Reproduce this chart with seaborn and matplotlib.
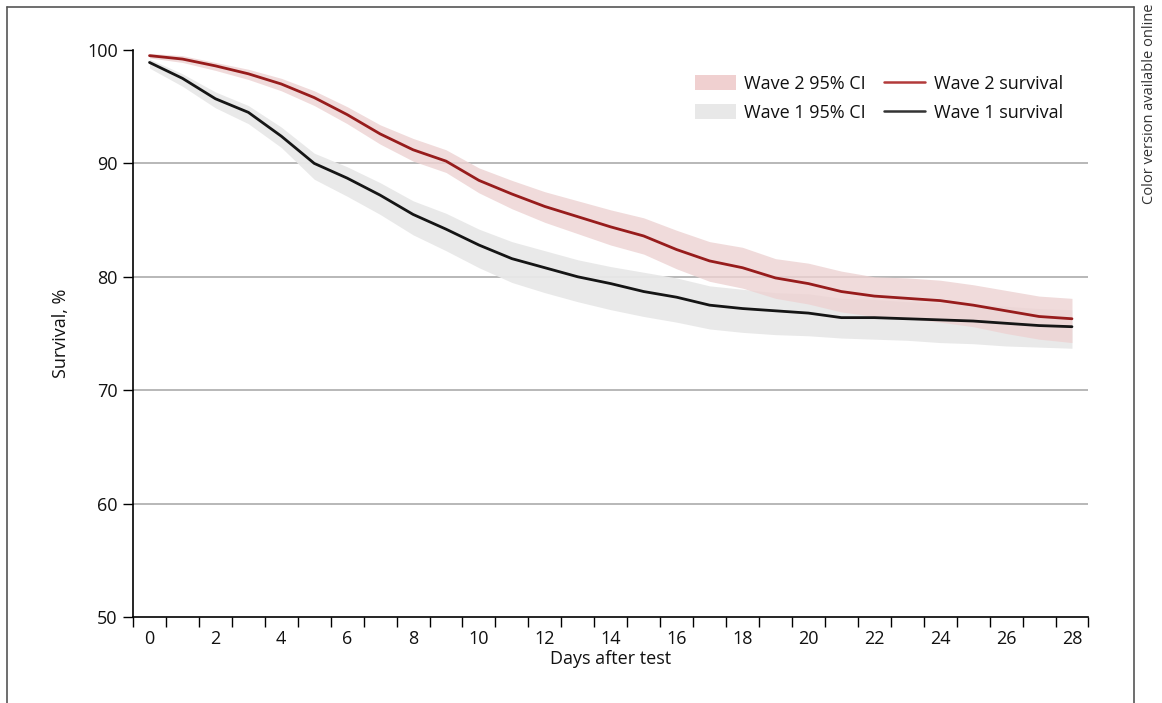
import numpy as np
import pandas as pd
import matplotlib
matplotlib.use('Agg')
import matplotlib.pyplot as plt
from matplotlib.lines import Line2D
from matplotlib.patches import Patch
import seaborn as sns

# Data
days = list(range(29))

wave2_survival = [99.5, 99.2, 98.6, 97.9, 97.0, 95.8, 94.3, 92.6, 91.2, 90.2,
                  88.5, 87.3, 86.2, 85.3, 84.4, 83.6, 82.4, 81.4, 80.8, 79.9,
                  79.4, 78.7, 78.3, 78.1, 77.9, 77.5, 77.0, 76.5, 76.3]
wave2_upper = [99.7, 99.5, 98.9, 98.3, 97.5, 96.4, 95.0, 93.4, 92.2, 91.2,
               89.6, 88.5, 87.5, 86.7, 85.9, 85.2, 84.1, 83.1, 82.6, 81.6,
               81.2, 80.5, 80.0, 79.9, 79.7, 79.3, 78.8, 78.3, 78.1]
wave2_lower = [99.3, 98.9, 98.2, 97.4, 96.4, 95.1, 93.5, 91.7, 90.2, 89.2,
               87.4, 86.0, 84.8, 83.8, 82.8, 82.0, 80.7, 79.6, 79.0, 78.1,
               77.6, 76.9, 76.5, 76.3, 76.0, 75.6, 75.0, 74.5, 74.2]

wave1_survival = [98.9, 97.5, 95.7, 94.5, 92.4, 90.0, 88.7, 87.2, 85.5, 84.2,
                  82.8, 81.6, 80.8, 80.0, 79.4, 78.7, 78.2, 77.5, 77.2, 77.0,
                  76.8, 76.4, 76.4, 76.3, 76.2, 76.1, 75.9, 75.7, 75.6]
wave1_upper = [99.2, 97.9, 96.3, 95.1, 93.2, 90.9, 89.7, 88.3, 86.7, 85.6,
               84.2, 83.1, 82.3, 81.5, 80.9, 80.4, 79.9, 79.2, 78.9, 78.6,
               78.5, 78.1, 78.0, 77.8, 77.7, 77.6, 77.4, 77.2, 77.1]
wave1_lower = [98.4, 96.8, 94.9, 93.5, 91.4, 88.6, 87.1, 85.5, 83.7, 82.3,
               80.8, 79.5, 78.6, 77.8, 77.1, 76.5, 76.0, 75.4, 75.1, 74.9,
               74.8, 74.6, 74.5, 74.4, 74.2, 74.1, 73.9, 73.8, 73.7]

df = pd.DataFrame({
    'day': days * 2,
    'survival': wave2_survival + wave1_survival,
    'wave': ['Wave 2'] * 29 + ['Wave 1'] * 29,
})

sns.set_style('white')
plt.rcParams['font.family'] = ['Open Sans', 'DejaVu Sans']
plt.rcParams['text.color'] = '#111111'
plt.rcParams['axes.labelcolor'] = '#111111'
plt.rcParams['xtick.color'] = '#111111'
plt.rcParams['ytick.color'] = '#111111'

red = '#971c1c'
black = '#151515'
red_band = '#edd2d2'
gray_band = '#e8e8e8'

fig = plt.figure(figsize=(11.62, 7.03), dpi=100)
ax = fig.add_axes([0.1145, 0.1223, 0.8222, 0.8066])

# confidence bands
ax.fill_between(days, wave1_lower, wave1_upper, color=gray_band, lw=0, alpha=0.95)
ax.fill_between(days, wave2_lower, wave2_upper, color=red_band, lw=0, alpha=0.8)

# gridlines
for g in [60, 70, 80, 90]:
    ax.axhline(g, color='#b8b8b8', lw=1.4, zorder=0.5)

sns.lineplot(data=df, x='day', y='survival', hue='wave',
             palette={'Wave 2': red, 'Wave 1': black}, lw=2, ax=ax, legend=False)

ax.set_xlim(-0.5, 28.5)
ax.set_ylim(50, 100)
ax.set_yticks(range(50, 101, 10))
ax.set_xticks(range(0, 29, 2))
ax.set_xticks(np.arange(-0.5, 29, 1), minor=True)
ax.tick_params(axis='x', which='both', bottom=True)
ax.tick_params(axis='y', which='both', left=True)
ax.tick_params(axis='x', which='major', length=0, labelsize=13, pad=9)
ax.tick_params(axis='x', which='minor', length=7, width=1, color='black', direction='out')
ax.tick_params(axis='y', length=7, width=1, color='black', direction='out', labelsize=13, pad=4)
for s in ['top', 'right']:
    ax.spines[s].set_visible(False)
for s in ['left', 'bottom']:
    ax.spines[s].set_color('black')
    ax.spines[s].set_linewidth(1.2)

ax.set_xlabel('Days after test', fontsize=13, labelpad=2)
ax.set_ylabel('Survival, %', fontsize=13, labelpad=12)

handles = [
    Patch(facecolor='#f0d0d0', edgecolor='none', label='Wave 2 95% CI'),
    Patch(facecolor='#e8e8e8', edgecolor='none', label='Wave 1 95% CI'),
    Line2D([0], [0], color='#b23a3a', lw=1.8, label='Wave 2 survival'),
    Line2D([0], [0], color='#333333', lw=1.8, label='Wave 1 survival'),
]
ax.legend(handles=handles, ncol=2, loc='upper right', bbox_to_anchor=(0.99, 0.985),
          frameon=False, fontsize=13, handlelength=2.3, handleheight=0.85,
          handletextpad=0.45, columnspacing=1.0, labelspacing=0.6)

# outer frame and side note
frame_kw = dict(color='#555555', lw=1.2, transform=fig.transFigure)
fig.add_artist(Line2D([0.006, 0.006], [0.0, 0.990], **frame_kw))
fig.add_artist(Line2D([0.006, 0.976], [0.990, 0.990], **frame_kw))
fig.add_artist(Line2D([0.976, 0.976], [0.0, 0.990], **frame_kw))
fig.text(0.9895, 0.995, 'Color version available online', rotation=90,
         ha='center', va='top', fontsize=10.5, color='#333333')

fig.savefig('out.png', dpi=100)
